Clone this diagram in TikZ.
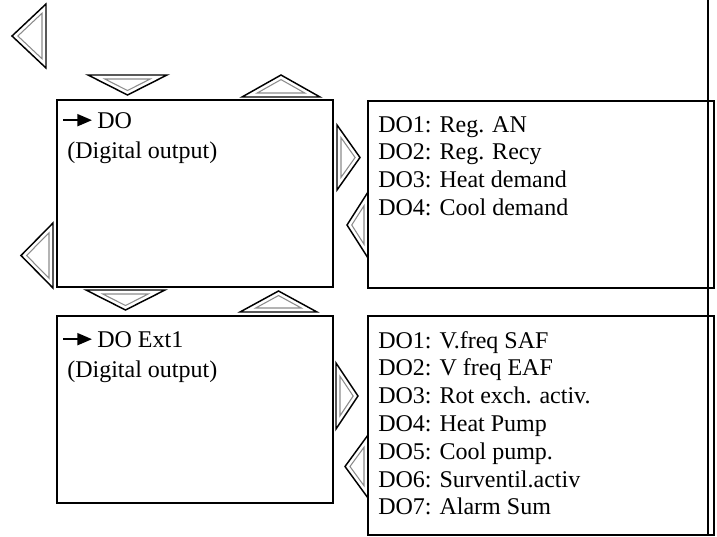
\documentclass[tikz,border=0pt]{standalone}
\usepackage{fontspec}
\setmainfont{Liberation Serif}
\usetikzlibrary{arrows.meta,fit,calc}

\begin{document}
\begin{tikzpicture}[x=0.75pt, y=-0.75pt,
  box/.style={draw, line width=1.5pt, inner sep=0pt},
  item/.style={anchor=base west, inner sep=0pt, font=\fontsize{18}{21}\selectfont},
  ptr/.style={-{Triangle[length=11pt, width=9pt]}, line width=1.5pt, shorten >=3.75pt},
  triout/.style={line width=1.1pt, black},
  triin/.style={line width=0.8pt, black!45},
  pics/dtri/.style 2 args={code={
    \pgfmathsetmacro\ir{#1*#2/(#1+2*sqrt(#2*#2+#1*#1/4))}
    \pgfmathsetmacro\ik{(\ir-4)/\ir}
    \draw[triout] (0,{-#1/2}) -- (#2,0) -- (0,{#1/2}) -- cycle;
    \draw[triin] (4,{-\ik*#1/2}) -- ({\ir+\ik*(#2-\ir)},0) -- (4,{\ik*#1/2}) -- cycle;
  }}]
\useasboundingbox (0,0) rectangle (717,536);

% boxes
\node[box, fit={(57,100) (333,287)}] (do) {};
\node[box, fit={(368,101) (714,288)}] (dolist) {};
\node[box, fit={(57,316) (333,503)}] (ext) {};
\node[box, fit={(368,316) (714,535)}] (extlist) {};
\draw[line width=1.5pt] (708,0) -- (708,536);

% menu titles
\node[item] (dohd) at (97,128) {DO};
\node[item] (dosub) at (67,158) {(Digital output)};
\coordinate (dopt) at ($(dohd.west)+(-34,0)$);
\draw[ptr] (dopt) -- (dohd.west);
\node[item] (exthd) at (97,347) {DO Ext1};
\node[item] (extsub) at (67,377) {(Digital output)};
\coordinate (extpt) at ($(exthd.west)+(-34,0)$);
\draw[ptr] (extpt) -- (exthd.west);

% output lists
\foreach \t [count=\i] in {DO1: Reg. AN, DO2: Reg. Recy, DO3: Heat demand, DO4: Cool demand}
  \node[item] (dl-\i) at (378,{132+27.8*(\i-1)}) {\t};
\foreach \t [count=\i] in {DO1: V.freq SAF, DO2: V freq EAF, DO3: Rot exch. activ., DO4: Heat Pump,
                           DO5: Cool pump., DO6: Surventil.activ, DO7: Alarm Sum}
  \node[item] (el-\i) at (378,{348+27.8*(\i-1)}) {\t};

% navigation triangles
\foreach \x/\y/\a/\b/\h in {46/36/180/64/34, 127.5/75/-90/79/20, 281/97/90/78/22,
                            337/157.5/0/65/23, 368/225/180/66/21, 53/255.5/180/65/32,
                            125.5/290/-90/79/20, 278.5/312/90/77/21, 336/396/0/66/22,
                            368/466.5/180/63/23}
  \pic[rotate=\a] at (\x,\y) {dtri={\b}{\h}};
\end{tikzpicture}
\end{document}
